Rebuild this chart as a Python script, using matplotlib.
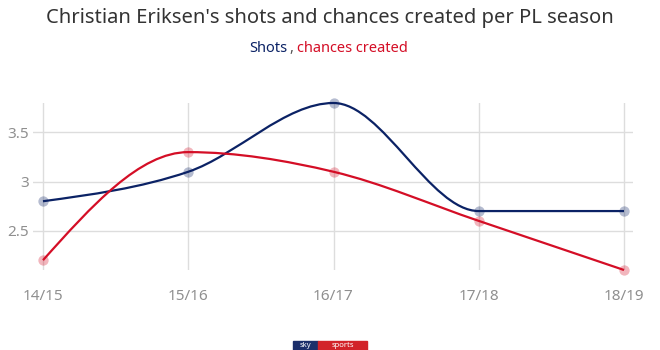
import numpy as np
import matplotlib.pyplot as plt
from matplotlib.path import Path
from matplotlib.patches import PathPatch, Rectangle

seasons = ['14/15', '15/16', '16/17', '17/18', '18/19']
shots = [2.8, 3.1, 3.8, 2.7, 2.7]
chances = [2.2, 3.3, 3.1, 2.6, 2.1]
yticks = [2.5, 3, 3.5]
ytick_labels = ['2.5', '3', '3.5']

NAVY = '#0b2265'
RED = '#d40e26'


##
def monotone_path(x, y):
    # cubic bezier path in the style of a monotone-x spline
    x = np.asarray(x, float)
    y = np.asarray(y, float)
    h = np.diff(x)
    s = np.diff(y) / h
    n = len(x)
    t = np.zeros(n)
    for i in range(1, n - 1):
        p = (s[i-1]*h[i] + s[i]*h[i-1]) / (h[i-1] + h[i])
        t[i] = (np.sign(s[i-1]) + np.sign(s[i])) * min(abs(s[i-1]), abs(s[i]), 0.5*abs(p))
    t[0] = (3*s[0] - t[1]) / 2
    t[-1] = (3*s[-1] - t[-2]) / 2
    verts = [(x[0], y[0])]
    codes = [Path.MOVETO]
    for i in range(n - 1):
        d = h[i] / 3
        verts += [(x[i] + d, y[i] + t[i]*d), (x[i+1] - d, y[i+1] - t[i+1]*d), (x[i+1], y[i+1])]
        codes += [Path.CURVE4] * 3
    return Path(verts, codes)


plt.rcParams['font.family'] = ['Noto Sans', 'DejaVu Sans']

fig = plt.figure(figsize=(6.6, 3.5), dpi=100)
ax = fig.add_axes([33/660, 1 - 270/350, 600/660, 167/350])

xs = np.arange(len(seasons))
for vals, col in [(shots, NAVY), (chances, RED)]:
    ax.scatter(xs, vals, s=55, color=col, alpha=0.3, lw=0, zorder=3, clip_on=False)
    ax.add_patch(PathPatch(monotone_path(xs, vals), fill=False, edgecolor=col, lw=1.6, zorder=4, clip_on=False))

ax.set_xlim(-10/145.25, 4 + 9/145.25)
ax.set_ylim(2.1, 3.8)
ax.set_xticks(xs)
ax.set_xticklabels(seasons)
ax.set_yticks(yticks)
ax.set_yticklabels(ytick_labels)
ax.grid(True, color='#dddddd', lw=1)
ax.set_axisbelow(True)
for sp in ax.spines.values():
    sp.set_visible(False)
ax.tick_params(length=0, colors='#8f8f8f', labelsize=11)
ax.tick_params(axis='x', pad=14)
ax.tick_params(axis='y', pad=3)

fig.text(0.5, 1 - 18/350, "Christian Eriksen's shots and chances created per PL season",
         ha='center', va='center', fontsize=14.5, color='#333333', fontweight='medium')
fig.text(287/660, 1 - 48/350, 'Shots', ha='right', va='center', fontsize=10.5, color=NAVY, fontweight='semibold')
fig.text(291/660, 1 - 48/350, ',', ha='center', va='center', fontsize=10.5, color='#555555')
fig.text(297/660, 1 - 48/350, 'chances created', ha='left', va='center', fontsize=10.5, color=RED)

# sky sports logo at the bottom edge
fig.patches.append(Rectangle((293/660, 0), 25/660, 9/350, transform=fig.transFigure, color='#1b2f6b'))
fig.patches.append(Rectangle((318/660, 0), 49/660, 9/350, transform=fig.transFigure, color='#d2232a'))
fig.text(305.5/660, 4.5/350, 'sky', ha='center', va='center', fontsize=5.5, color='white', fontweight='bold')
fig.text(342.5/660, 4.5/350, 'sports', ha='center', va='center', fontsize=5.5, color='white', fontweight='bold')

fig.savefig('out.png', dpi=100)
